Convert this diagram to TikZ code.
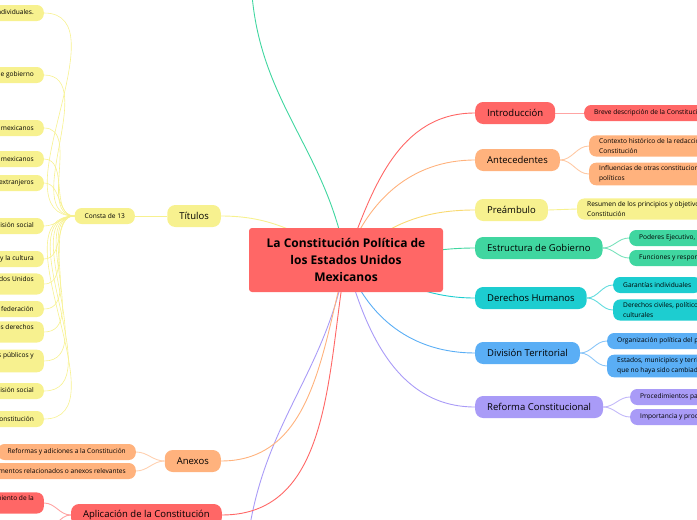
\documentclass[tikz,border=0pt]{standalone}
\usepackage{fontspec}
\setmainfont{Open Sans}
\usetikzlibrary{backgrounds}
\definecolor{cred}{HTML}{FF6766}
\definecolor{corange}{HTML}{FFB27D}
\definecolor{cyellow}{HTML}{F7F18F}
\definecolor{cgreen}{HTML}{40D6A0}
\definecolor{cteal}{HTML}{1DCDD0}
\definecolor{cblue}{HTML}{5AAEF5}
\definecolor{cpurple}{HTML}{A99BF7}
\begin{document}
\begin{tikzpicture}[x=1pt,y=-1pt,
  branch/.style = {rounded corners=8pt, minimum height=22pt, inner xsep=12pt, font=\fontsize{9.5}{12}\selectfont},
  leaf/.style = {rounded corners=7pt, minimum height=16pt, inner xsep=10pt, inner ysep=3pt, align=left, font=\fontsize{6.6}{10}\selectfont},
  link/.style = {line width=0.9pt},]
\useasboundingbox (0,0) rectangle (697,520);
\node (main) at (346,260)[fill=cred, rounded corners=3pt, minimum width=194pt, minimum height=64pt, align=center, font=\bfseries\fontsize{12}{17}\selectfont] {La Constitución Política de\\los Estados Unidos\\Mexicanos};

% right side
\node (intro) at (475,113)[branch, fill=cred, anchor=west] {Introducción};
\node (intro1) at (584,113)[leaf, fill=cred, anchor=west] {Breve descripción de la Constitución Política de México};
\node (ante) at (475,160)[branch, fill=corange, anchor=west] {Antecedentes};
\node (ante1) at (589,146)[leaf, fill=corange, anchor=west] {Contexto histórico de la redacción de la\\Constitución};
\node (ante2) at (589,174)[leaf, fill=corange, anchor=west] {Influencias de otras constituciones y documentos\\políticos};
\node (pream) at (475,210)[branch, fill=cyellow, anchor=west] {Preámbulo};
\node (pream1) at (577,209)[leaf, fill=cyellow, anchor=west] {Resumen de los principios y objetivos de la\\Constitución};
\node (estr) at (475,248)[branch, fill=cgreen, anchor=west] {Estructura de Gobierno};
\node (estr1) at (629,238)[leaf, fill=cgreen, anchor=west] {Poderes Ejecutivo, Legislativo y Judicial};
\node (estr2) at (629,258)[leaf, fill=cgreen, anchor=west] {Funciones y responsabilidades};
\node (dere) at (475,298)[branch, fill=cteal, anchor=west] {Derechos Humanos};
\node (dere1) at (613,285)[leaf, fill=cteal, anchor=west] {Garantías individuales};
\node (dere2) at (613,310)[leaf, fill=cteal, anchor=west] {Derechos civiles, políticos, económicos, sociales y\\culturales};
\node (divi) at (475,353)[branch, fill=cblue, anchor=west] {División Territorial};
\node (divi1) at (607,341)[leaf, fill=cblue, anchor=west] {Organización política del país};
\node (divi2) at (607,366)[leaf, fill=cblue, anchor=west] {Estados, municipios y territorios de la federación\\que no haya sido cambiado};
\node (refo) at (475,407)[branch, fill=cpurple, anchor=west] {Reforma Constitucional};
\node (refo1) at (630,397)[leaf, fill=cpurple, anchor=west] {Procedimientos para reformar la Constitución};
\node (refo2) at (630,417)[leaf, fill=cpurple, anchor=west] {Importancia y proceso de las reformas};

% left side
\node (titu) at (221,216)[branch, fill=cyellow, anchor=east] {Títulos};
\node (cons) at (135,216)[leaf, fill=cyellow, anchor=east] {Consta de 13};
\foreach \y/\txt [count=\i] in {
  13/{De los derechos humanos y sus garantías individuales.},
  75/{De la soberanía nacional y de la forma de gobierno},
  128/{De los mexicanos},
  159/{De los ciudadanos mexicanos},
  183/{De los extranjeros},
  226/{Del trabajo y de la previsión social},
  259/{De la educación y la cultura},
  284/{Del Supremo Poder de los Estados Unidos\\Mexicanos},
  309/{De los estados de la federación},
  332/{De la protección de los derechos\\humanos},
  361/{De las responsabilidades de los servidores públicos y\\patrimonial del Estado},
  391/{Del trabajo y de la previsión social},
  419/{De la inviolabilidad de la Constitución}}
  \node (t\i) at (44,\y)[leaf, fill=cyellow, anchor=east] {\txt};
\node (anex) at (221,461)[branch, fill=corange, anchor=east] {Anexos};
\node (anex1) at (136,452)[leaf, fill=corange, anchor=east] {Reformas y adiciones a la Constitución};
\node (anex2) at (136,471)[leaf, fill=corange, anchor=east] {Documentos relacionados o anexos relevantes};
\node (apli) at (222,515)[branch, fill=cred, anchor=east] {Aplicación de la Constitución};
\node (apli1) at (44,503)[leaf, fill=cred, anchor=east] {Interpretación y cumplimiento de la\\Constitución};
\node (apli2) at (44,530)[leaf, fill=cred, anchor=east] {Casos relevantes};
\coordinate (up) at (252,-5);
\coordinate (down) at (250,525);

\begin{scope}[on background layer]
\draw[link, cred] (main.center) to[out=70, in=180] (intro.west);
\draw[link, cred!60] (intro.east) -- (intro1.west);
\draw[link, corange] (main.center) to[out=70, in=180] (ante.west);
\draw[link, cyellow!80!orange] (main.center) to[out=40, in=180] (pream.west);
\draw[link, cgreen] (main.center) to[out=0, in=180] (estr.west);
\draw[link, cteal] (main.center) to[out=-20, in=180] (dere.west);
\draw[link, cblue] (main.center) to[out=-70, in=180] (divi.west);
\draw[link, cpurple] (main.center) to[out=-75, in=180] (refo.west);
\foreach \p/\c/\k in {ante/ante1/corange, ante/ante2/corange, estr/estr1/cgreen, estr/estr2/cgreen, dere/dere1/cteal, dere/dere2/cteal, divi/divi1/cblue, divi/divi2/cblue, refo/refo1/cpurple, refo/refo2/cpurple}
  \draw[link, \k!70] (\p.east) to[out=0, in=180] (\c.west);
\draw[link, cyellow] (pream.east) -- (pream1.west);
\draw[link, cgreen] (main.center) to[out=100, in=-85] (up);
\draw[link, cpurple] (main.center) to[out=-100, in=80] (down);
\draw[link, cyellow] (main.center) to[out=150, in=0] (titu.east);
\draw[link, cyellow] (titu.west) -- (cons.east);
\foreach \i in {1,...,13}
  \draw[line width=0.6pt, cyellow] (cons.west) to[out=180, in=0] (t\i.east);
\draw[link, corange] (main.center) to[out=-105, in=0] (anex.east);
\draw[link, corange!60] (anex.west) to[out=180, in=0] (anex1.east);
\draw[link, corange!60] (anex.west) to[out=180, in=0] (anex2.east);
\draw[link, cred] (main.center) to[out=-100, in=0] (apli.east);
\draw[link, cred!60] (apli.west) to[out=180, in=0] (apli1.east);
\draw[link, cred!60] (apli.west) to[out=180, in=0] (apli2.east);
\end{scope}
\end{tikzpicture}
\end{document}
